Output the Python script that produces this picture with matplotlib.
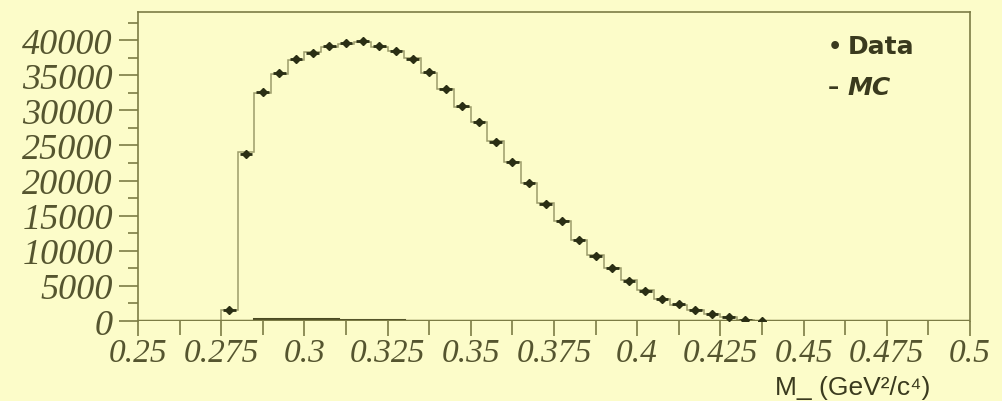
import numpy as np
import matplotlib
matplotlib.use("Agg")
from matplotlib import pyplot as plt
from matplotlib.ticker import MultipleLocator

# bin centres (GeV^2/c^4), bin width 0.005
centers = [0.2775, 0.2825, 0.2875, 0.2925, 0.2975, 0.3025, 0.3075, 0.3125, 0.3175,
           0.3225, 0.3275, 0.3325, 0.3375, 0.3425, 0.3475, 0.3525, 0.3575, 0.3625,
           0.3675, 0.3725, 0.3775, 0.3825, 0.3875, 0.3925, 0.3975, 0.4025, 0.4075,
           0.4125, 0.4175, 0.4225, 0.4275, 0.4325, 0.4375]
data = [1600, 23800, 32600, 35300, 37300, 38200, 39100, 39600, 39800,
        39100, 38500, 37300, 35400, 33000, 30600, 28300, 25500, 22600,
        19600, 16700, 14200, 11500, 9300, 7600, 5700, 4300, 3100,
        2400, 1600, 1000, 500, 150, 40]
mc = [1500, 24000, 32500, 35200, 37200, 38300, 39000, 39500, 39700,
      39000, 38400, 37400, 35300, 33100, 30500, 28400, 25600, 22700,
      19700, 16800, 14300, 11600, 9400, 7500, 5800, 4400, 3200,
      2300, 1600, 1000, 500, 200, 60]
bg = [0, 60, 300, 300, 300, 300, 300, 150, 120, 100, 100, 0, 0, 0, 0, 0, 0, 0,
      0, 0, 0, 0, 0, 0, 0, 0, 0, 0, 0, 0, 0, 0, 0]
xlabels = ["0.25", "0.275", "0.3", "0.325", "0.35", "0.375", "0.4",
           "0.425", "0.45", "0.475", "0.5"]

bgcol = "#fcfcc9"
axcol = "#7c7c45"
txtcol = "#55552f"
ptcol = "#2a2e14"
legcol = "#3a3a1e"

c = np.array(centers)
edges = np.append(c - 0.0025, c[-1] + 0.0025)

fig = plt.figure(figsize=(10.02, 4.02), dpi=100, facecolor=bgcol)
ax = fig.add_axes([0.1377, 0.199, 0.8303, 0.7687], facecolor=bgcol)

ax.stairs(mc, edges, color="#9c9c6a", lw=1.1)
ax.stairs(bg, edges, color="#4a4a22", lw=2.2)
ax.errorbar(c, data, xerr=0.0019, fmt="D", ms=4.5, color=ptcol, ecolor=ptcol,
            elinewidth=2, capsize=0, lw=0)
ax.axhline(0, color=axcol, lw=2.5)

ax.set_xlim(0.25, 0.5)
ax.set_ylim(0, 44000)
ax.xaxis.set_minor_locator(MultipleLocator(0.0125))
ax.yaxis.set_major_locator(MultipleLocator(5000))
ax.yaxis.set_minor_locator(MultipleLocator(2500))
ax.set_xticks([0.25 + 0.025 * i for i in range(len(xlabels))])
ax.set_xticklabels(xlabels)

for s in ax.spines.values():
    s.set_color(axcol)
    s.set_linewidth(1.2)
ax.spines["bottom"].set_visible(False)

ax.tick_params(which="major", direction="out", length=14, width=1.2, color=axcol,
               labelcolor=txtcol, pad=4)
ax.tick_params(axis="x", which="major", length=11, pad=1, labelsize=24)
ax.tick_params(axis="y", which="major", labelsize=26)
ax.tick_params(which="minor", direction="out", length=7, width=1.2, color=axcol)
ax.tick_params(axis="x", which="minor", length=10)
for lab in ax.get_xticklabels() + ax.get_yticklabels():
    lab.set_fontfamily("Liberation Serif")
    lab.set_fontstyle("italic")

fig.text(0.833, 0.883, "•", fontsize=16, fontweight="bold", color=legcol,
         ha="center", va="center")
fig.text(0.846, 0.883, "Data", fontsize=18, fontweight="bold", color=legcol,
         ha="left", va="center")
fig.text(0.832, 0.781, "–", fontsize=16, fontweight="bold", color=legcol,
         ha="center", va="center")
fig.text(0.846, 0.781, "MC", fontsize=18, fontweight="bold", fontstyle="italic",
         color=legcol, ha="left", va="center")

fig.text(0.851, 0.036, "M_ (GeV²/c⁴)", fontsize=19, color=legcol,
         ha="center", va="center", family=["Liberation Sans", "DejaVu Sans"])

fig.savefig("out.png", dpi=100, facecolor=bgcol)
